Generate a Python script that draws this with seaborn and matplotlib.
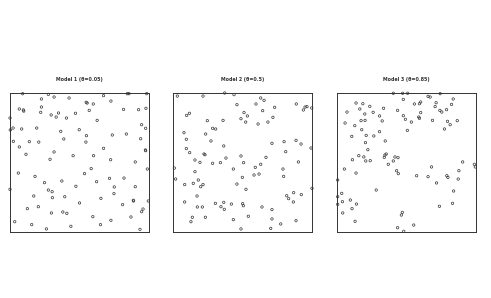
import matplotlib
matplotlib.use("Agg")
import matplotlib.pyplot as plt
import seaborn as sns
import pandas as pd

# point locations (unit square)
model1_pts = [
    (0.091, 0.995), (0.276, 0.990), (0.844, 0.995), (0.856, 0.995), (0.983, 0.995),
    (0.317, 0.971), (0.425, 0.964), (0.673, 0.981), (0.226, 0.957), (0.726, 0.942),
    (0.548, 0.933), (0.555, 0.928), (0.599, 0.921), (0.226, 0.899), (0.067, 0.885),
    (0.096, 0.878), (0.099, 0.870), (0.817, 0.882), (0.925, 0.880), (0.978, 0.890),
    (0.570, 0.875), (0.221, 0.861), (0.349, 0.856), (0.296, 0.842), (0.332, 0.827),
    (0.471, 0.854), (0.406, 0.820), (0.000, 0.820), (0.627, 0.803), (0.947, 0.772),
    (0.976, 0.746), (0.022, 0.748), (0.002, 0.734), (0.084, 0.741), (0.192, 0.748),
    (0.365, 0.724), (0.498, 0.736), (0.736, 0.698), (0.837, 0.705), (0.550, 0.693),
    (0.940, 0.671), (0.024, 0.652), (0.139, 0.650), (0.207, 0.647), (0.387, 0.669),
    (0.546, 0.647), (0.067, 0.612), (0.673, 0.602), (0.974, 0.590), (0.976, 0.585),
    (0.317, 0.576), (0.115, 0.559), (0.454, 0.549), (0.601, 0.549), (0.288, 0.523),
    (0.724, 0.520), (0.901, 0.504), (0.584, 0.456), (0.988, 0.453), (0.060, 0.424),
    (0.536, 0.420), (0.180, 0.400), (0.373, 0.367), (0.623, 0.362), (0.716, 0.386),
    (0.820, 0.388), (0.248, 0.355), (0.000, 0.307), (0.474, 0.329), (0.276, 0.302),
    (0.750, 0.324), (0.303, 0.290), (0.901, 0.326), (0.171, 0.259), (0.305, 0.247),
    (0.394, 0.254), (0.654, 0.242), (0.748, 0.276), (0.500, 0.209), (0.887, 0.228),
    (0.889, 0.223), (0.995, 0.223), (0.204, 0.182), (0.810, 0.197), (0.125, 0.168),
    (0.957, 0.165), (0.947, 0.146), (0.298, 0.137), (0.380, 0.144), (0.409, 0.134),
    (0.596, 0.110), (0.870, 0.108), (0.034, 0.074), (0.726, 0.084), (0.156, 0.053),
    (0.651, 0.053), (0.438, 0.041), (0.262, 0.022), (0.935, 0.019),
]
model2_pts = [
    (0.372, 1.000), (0.031, 0.978), (0.216, 0.978), (0.439, 0.988), (0.631, 0.964),
    (0.655, 0.947), (0.460, 0.916), (0.597, 0.921), (0.887, 0.921), (0.964, 0.902),
    (0.950, 0.899), (0.938, 0.878), (0.998, 0.892), (0.731, 0.897), (0.645, 0.873),
    (0.511, 0.859), (0.535, 0.835), (0.489, 0.815), (0.118, 0.854), (0.098, 0.839),
    (0.247, 0.801), (0.360, 0.803), (0.719, 0.825), (0.683, 0.791), (0.612, 0.777),
    (0.523, 0.791), (0.285, 0.746), (0.307, 0.741), (0.079, 0.715), (0.235, 0.705),
    (0.096, 0.667), (0.273, 0.655), (0.712, 0.638), (0.799, 0.650), (0.885, 0.659),
    (0.921, 0.633), (0.365, 0.619), (0.096, 0.600), (0.993, 0.604), (0.120, 0.571),
    (0.811, 0.578), (0.223, 0.561), (0.230, 0.556), (0.489, 0.547), (0.669, 0.537),
    (0.381, 0.532), (0.158, 0.518), (0.194, 0.501), (0.341, 0.499), (0.285, 0.494),
    (0.508, 0.499), (0.631, 0.487), (0.902, 0.504), (0.010, 0.460), (0.434, 0.453),
    (0.592, 0.465), (0.791, 0.453), (0.158, 0.434), (0.583, 0.410), (0.619, 0.417),
    (0.499, 0.393), (0.796, 0.400), (0.019, 0.381), (0.182, 0.374), (0.146, 0.350),
    (0.084, 0.341), (0.216, 0.341), (0.199, 0.326), (0.460, 0.345), (0.525, 0.307),
    (1.000, 0.314), (0.173, 0.259), (0.818, 0.261), (0.868, 0.283), (0.923, 0.269),
    (0.832, 0.240), (0.084, 0.216), (0.305, 0.206), (0.365, 0.213), (0.345, 0.182),
    (0.420, 0.201), (0.501, 0.204), (0.506, 0.189), (0.175, 0.180), (0.211, 0.180),
    (0.369, 0.163), (0.640, 0.180), (0.712, 0.161), (0.866, 0.216), (0.139, 0.106),
    (0.233, 0.106), (0.129, 0.074), (0.542, 0.113), (0.434, 0.089), (0.712, 0.094),
    (0.775, 0.058), (0.885, 0.082), (0.489, 0.022), (0.703, 0.026),
]
model3_pts = [
    (0.405, 0.998), (0.472, 0.998), (0.508, 0.998), (0.742, 0.995), (0.655, 0.976),
    (0.670, 0.971), (0.836, 0.957), (0.477, 0.954), (0.137, 0.928), (0.186, 0.923),
    (0.236, 0.904), (0.164, 0.885), (0.335, 0.890), (0.602, 0.935), (0.593, 0.923),
    (0.557, 0.921), (0.713, 0.930), (0.824, 0.918), (0.706, 0.902), (0.072, 0.863),
    (0.200, 0.849), (0.260, 0.861), (0.436, 0.875), (0.602, 0.859), (0.740, 0.875),
    (0.754, 0.863), (0.788, 0.880), (0.306, 0.835), (0.477, 0.837), (0.588, 0.827),
    (0.593, 0.818), (0.173, 0.801), (0.202, 0.803), (0.492, 0.811), (0.535, 0.791),
    (0.687, 0.803), (0.795, 0.796), (0.865, 0.801), (0.058, 0.784), (0.128, 0.765),
    (0.325, 0.799), (0.814, 0.772), (0.773, 0.741), (0.178, 0.736), (0.306, 0.722),
    (0.506, 0.731), (0.106, 0.688), (0.210, 0.695), (0.265, 0.691), (0.347, 0.655),
    (0.205, 0.643), (0.222, 0.592), (0.354, 0.561), (0.345, 0.554), (0.340, 0.537),
    (0.157, 0.549), (0.193, 0.540), (0.417, 0.540), (0.439, 0.535), (0.111, 0.520),
    (0.207, 0.511), (0.239, 0.513), (0.405, 0.511), (0.904, 0.504), (0.369, 0.487),
    (0.988, 0.487), (0.995, 0.468), (0.680, 0.468), (0.053, 0.453), (0.429, 0.441),
    (0.441, 0.420), (0.137, 0.424), (0.877, 0.441), (0.573, 0.405), (0.655, 0.398),
    (0.790, 0.405), (0.798, 0.393), (0.872, 0.381), (0.005, 0.374), (0.716, 0.353),
    (0.282, 0.302), (0.839, 0.295), (0.034, 0.278), (0.005, 0.254), (0.039, 0.218),
    (0.096, 0.230), (0.140, 0.201), (0.005, 0.199), (0.108, 0.168), (0.831, 0.206),
    (0.737, 0.185), (0.041, 0.137), (0.470, 0.141), (0.463, 0.122), (0.130, 0.077),
    (0.552, 0.050), (0.436, 0.031), (0.480, 0.005),
]
titles = ["Model 1 (\u03b8=0.05)", "Model 2 (\u03b8=0.5)", "Model 3 (\u03b8=0.85)"]

sns.set_style("white")
fig = plt.figure(figsize=(4.91, 2.98), dpi=100)
lefts = [10 / 491, 173 / 491, 337 / 491]

for left, pts, title in zip(lefts, [model1_pts, model2_pts, model3_pts], titles):
    ax = fig.add_axes([left, 1 - 232 / 298, 139 / 491, 139 / 298])
    df = pd.DataFrame(pts, columns=["x", "y"])
    sns.scatterplot(data=df, x="x", y="y", ax=ax, marker="o", s=3,
                    facecolor="none", edgecolor="#333333", linewidth=0.5,
                    clip_on=False)
    ax.set_xlim(0, 1)
    ax.set_ylim(0, 1)
    ax.set_xticks([])
    ax.set_yticks([])
    ax.set_xlabel("")
    ax.set_ylabel("")
    for sp in ax.spines.values():
        sp.set_color("#333333")
        sp.set_linewidth(0.7)
    ax.set_title(title, fontsize=3.4, fontweight="bold", pad=9, color="#333333")

fig.savefig("out.png", dpi=100)
